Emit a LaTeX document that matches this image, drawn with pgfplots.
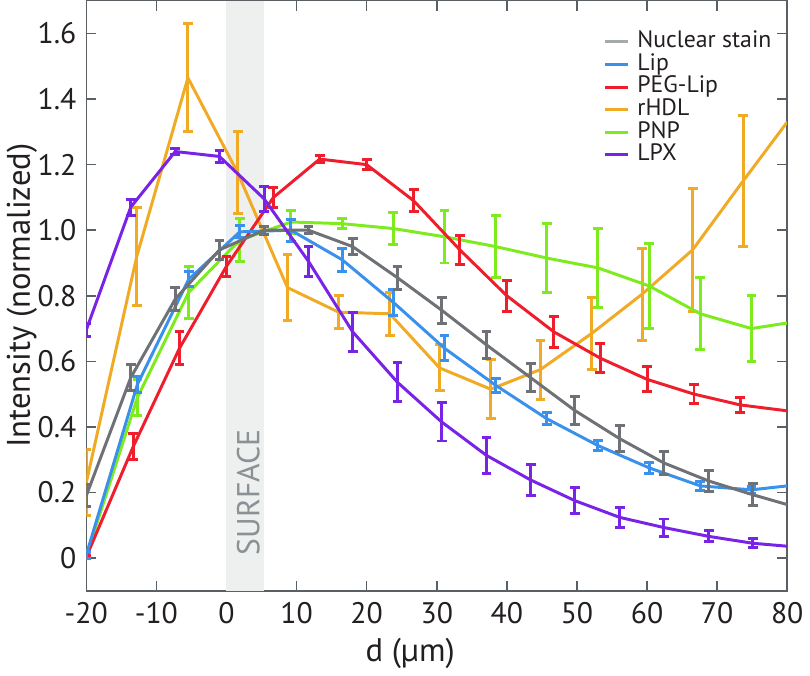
\documentclass[border=0pt]{standalone}
\usepackage{fontspec}
\setmainfont{PT Sans}
\usepackage{pgfplots}
\pgfplotsset{compat=1.18}
\usepackage{pgfplotstable}

\definecolor{nuc}{RGB}{110,113,117}
\definecolor{nucleg}{RGB}{165,170,170}
\definecolor{lip}{RGB}{58,145,235}
\definecolor{peg}{RGB}{238,30,45}
\definecolor{rhdl}{RGB}{240,170,35}
\definecolor{pnp}{RGB}{125,235,30}
\definecolor{lpx}{RGB}{120,35,230}
\definecolor{axcol}{RGB}{90,95,100}
\definecolor{labcol}{RGB}{35,31,32}
\definecolor{surf}{RGB}{238,240,240}
\definecolor{surftext}{RGB}{140,145,150}

% d, mean, error; the last row (d=80) only carries the line to the edge
\pgfplotstableread{
x y e
-20 0.19 0.033
-13.66 0.55 0.04
-7.3 0.79 0.035
-1.0 0.94 0.028
5.36 1.00 0.012
11.7 1.00 0.011
18.0 0.95 0.025
24.4 0.855 0.035
30.7 0.756 0.04
37.1 0.65 0.04
43.4 0.55 0.043
49.7 0.45 0.042
56.1 0.364 0.04
62.4 0.29 0.035
68.8 0.235 0.033
75.1 0.193 0.033
80 0.163 0
}\nuc
\pgfplotstableread{
x y e
-20 0.01 0.01
-12.7 0.53 0.025
-5.4 0.85 0.023
1.9 0.995 0.018
9.2 1.0 0.033
16.5 0.91 0.035
23.8 0.78 0.039
31.1 0.64 0.038
38.4 0.527 0.021
45.7 0.425 0.018
53.0 0.343 0.015
60.3 0.275 0.017
67.6 0.22 0.013
74.9 0.208 0.01
80 0.22 0
}\lip
\pgfplotstableread{
x y e
-20 0.003 0.006
-13.3 0.34 0.04
-6.7 0.64 0.05
0 0.89 0.03
6.7 1.10 0.03
13.3 1.217 0.01
20 1.20 0.015
26.7 1.09 0.033
33.3 0.94 0.045
40 0.80 0.048
46.7 0.69 0.048
53.3 0.61 0.043
60 0.545 0.038
66.7 0.50 0.03
73.3 0.467 0.023
80 0.449 0
}\peg
\pgfplotstableread{
x y e
-20 0.23 0.10
-12.8 0.92 0.15
-5.5 1.465 0.165
1.6 1.175 0.125
8.7 0.825 0.1
16.0 0.75 0.05
23.3 0.745 0.065
30.4 0.58 0.07
37.7 0.515 0.09
44.8 0.575 0.09
52.1 0.685 0.11
59.3 0.805 0.14
66.5 0.94 0.187
73.7 1.15 0.2
80 1.33 0
}\rhdl
\pgfplotstableread{
x y e
-20 0.005 0.008
-12.7 0.49 0.055
-5.4 0.81 0.08
1.9 0.97 0.065
9.2 1.025 0.035
16.5 1.02 0.015
23.8 1.005 0.05
31.1 0.98 0.08
38.4 0.95 0.095
45.7 0.915 0.105
53.0 0.885 0.12
60.3 0.83 0.13
67.6 0.745 0.11
74.9 0.70 0.1
80 0.717 0
}\pnp
\pgfplotstableread{
x y e
-20 0.696 0.02
-13.66 1.07 0.025
-7.3 1.24 0.008
-1.0 1.225 0.018
5.36 1.096 0.038
11.7 0.905 0.045
18.0 0.69 0.06
24.4 0.536 0.06
30.7 0.415 0.058
37.1 0.313 0.054
43.4 0.238 0.048
49.7 0.175 0.04
56.1 0.124 0.031
62.4 0.093 0.026
68.8 0.066 0.017
75.1 0.045 0.014
80 0.036 0
}\lpx

\newcommand{\series}[2]{%
  \addplot[#1, line width=1.5bp, mark=none, forget plot] table[x=x, y=y] {#2};
  \addplot[draw=none, mark=none, forget plot, restrict x to domain=-25:77,
    error bars/.cd, y dir=both, y explicit,
    error bar style={draw=#1, line width=1.5bp},
    error mark options={rotate=90, draw=#1, line width=1.5bp, mark size=2.5bp}]
    table[x=x, y=y, y error=e] {#2};
}

\begin{document}
\begin{tikzpicture}
\begin{axis}[
  scale only axis,
  width=354bp, height=298bp,
  xmin=-20, xmax=80, ymin=-0.1, ymax=1.7,
  xtick={-20,-10,0,10,20,30,40,50,60,70,80},
  xticklabels={-20,-10,0,10,20,30,40,50,60,70,80},
  ytick={0,0.2,0.4,0.6,0.8,1.0,1.2,1.4,1.6},
  yticklabels={0,0.2,0.4,0.6,0.8,1.0,1.2,1.4,1.6},
  tick align=inside, major tick length=5bp,
  tick style={axcol, line width=0.75bp},
  axis line style={axcol, line width=0.75bp},
  font=\fontsize{15bp}{17bp}\selectfont,
  ticklabel style={text=labcol},
  xticklabel style={yshift=-2.5bp},
  yticklabel style={xshift=-1.5bp},
  xlabel={d (µm)}, ylabel={Intensity (normalized)},
  label style={font=\fontsize{16.5bp}{18bp}\selectfont, text=labcol},
  xlabel style={at={(axis description cs:0.462,-0.107)}, anchor=center},
  ylabel style={at={(axis description cs:-0.092,0.5)}, anchor=center},
  legend image code/.code={\draw[#1] (0bp,0bp) -- (11.5bp,0bp);},
  legend style={at={(rel axis cs:0.737,0.950)}, anchor=north west,
    draw=none, fill=none, inner sep=0pt, column sep=4bp,
    font=\fontsize{12bp}{13bp}\selectfont, text=labcol,
    nodes={inner sep=0.25bp, text height=8.4bp, text depth=2.5bp}},
  legend cell align=left,
]
\fill[surf] (axis cs:0,-0.1) rectangle (axis cs:5.4,1.7);
\node[rotate=90, text=surftext, font=\fontsize{16bp}{18bp}\selectfont]
  at (axis cs:3.1,0.20) {SURFACE};

\series{rhdl}{\rhdl}
\series{pnp}{\pnp}
\series{peg}{\peg}
\series{lip}{\lip}
\series{nuc}{\nuc}
\series{lpx}{\lpx}

\addlegendimage{nucleg, line width=1.5bp}\addlegendentry{Nuclear stain}
\addlegendimage{lip, line width=1.5bp}\addlegendentry{Lip}
\addlegendimage{peg, line width=1.5bp}\addlegendentry{PEG-Lip}
\addlegendimage{rhdl, line width=1.5bp}\addlegendentry{rHDL}
\addlegendimage{pnp, line width=1.5bp}\addlegendentry{PNP}
\addlegendimage{lpx, line width=1.5bp}\addlegendentry{LPX}
\end{axis}
\end{tikzpicture}
\end{document}
